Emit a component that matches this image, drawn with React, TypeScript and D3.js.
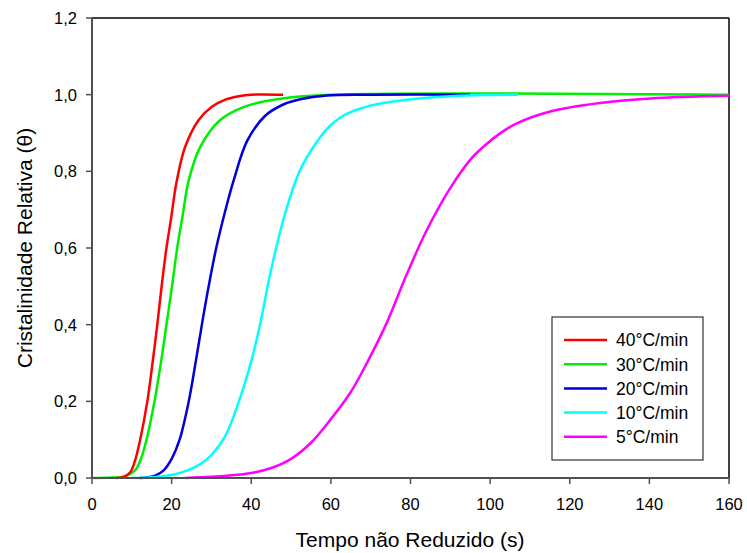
import React from "react";
import * as d3 from "d3";

const xTicks = [0, 20, 40, 60, 80, 100, 120, 140, 160];
const yTicks = [0, 0.2, 0.4, 0.6, 0.8, 1.0, 1.2];

const seriesNames = ["40°C/min", "30°C/min", "20°C/min", "10°C/min", "5°C/min"];
const seriesColors = ["#ff0000", "#00ee00", "#0000dd", "#00ffff", "#ff00ff"];

const t40 = [6, 8, 9.6, 10.8, 12.1, 13.9, 15.2, 16.4, 17.6, 18.7, 19.9, 21.2, 23.4, 26.8, 30.2, 33.5, 36.9, 40, 48];
const v40 = [0, 0.003, 0.015, 0.045, 0.1, 0.2, 0.3, 0.4, 0.51, 0.6, 0.68, 0.77, 0.864, 0.934, 0.969, 0.987, 0.996, 1.0, 1.0];

const t30 = [0.5, 5, 8, 10.8, 12.3, 13.7, 15.7, 17.3, 18.7, 20.1, 21.4, 22.7, 24.3, 27.2, 32.2, 38.4, 47.7, 60, 160];
const v30 = [0, 0.001, 0.004, 0.02, 0.05, 0.1, 0.2, 0.3, 0.4, 0.5, 0.6, 0.68, 0.777, 0.864, 0.934, 0.969, 0.99, 1.0, 1.0];

const t20 = [12, 14, 16, 18, 20, 22, 24.3, 26, 27.6, 29.3, 31.2, 33.3, 35.6, 39, 43.5, 48.2, 52.3, 59, 70, 95];
const v20 = [0, 0.002, 0.007, 0.02, 0.05, 0.1, 0.2, 0.3, 0.4, 0.5, 0.6, 0.69, 0.777, 0.88, 0.945, 0.975, 0.988, 0.998, 1.0, 1.0];

const t10 = [10.5, 15, 20, 24, 27, 30, 33.5, 36.9, 39.4, 42, 44.5, 46.5, 48.5, 52.3, 56.5, 59.5, 63.1, 67.5, 73.2, 85.8, 98, 107];
const v10 = [0, 0.002, 0.008, 0.02, 0.035, 0.06, 0.11, 0.2, 0.282, 0.39, 0.52, 0.61, 0.69, 0.804, 0.877, 0.916, 0.945, 0.964, 0.978, 0.993, 0.999, 1.0];

const t5 = [23.4, 30, 34, 40, 45, 50, 54.8, 59.8, 64.8, 69, 74, 79, 84.1, 89.9, 95, 98.3, 102.5, 106.7, 115.1, 127.6, 140.2, 160];
const v5 = [0, 0.003, 0.006, 0.013, 0.026, 0.05, 0.09, 0.151, 0.221, 0.299, 0.404, 0.53, 0.647, 0.755, 0.83, 0.864, 0.899, 0.925, 0.956, 0.978, 0.99, 0.997];

const seriesT = [t40, t30, t20, t10, t5];
const seriesV = [v40, v30, v20, v10, v5];
const drawOrder = [1, 0, 2, 3, 4];

export default function App() {
  const W = 747, H = 553;
  const left = 92, right = 729, top = 18, bottom = 478;
  const x = d3.scaleLinear().domain([0, 160]).range([left, right]);
  const y = d3.scaleLinear().domain([0, 1.2]).range([bottom, top]);
  const line = d3
    .line<[number, number]>()
    .x((d) => x(d[0]))
    .y((d) => y(d[1]))
    .curve(d3.curveCatmullRom.alpha(0.5));
  const font = "Arial, 'Liberation Sans', sans-serif";
  const fmt = (v: number) => v.toFixed(1).replace(".", ",");
  const axisColor = "#505050";

  const legX = 552, legY = 317, legW = 151, legH = 143;
  const rowY0 = 340, rowDy = 24.2;

  return (
    <svg
      width={W}
      height={H}
      style={{ position: "absolute", left: 0, top: 0, background: "#fff" }}
      fontFamily={font}
    >
      <rect x={0} y={0} width={W} height={H} fill="#fff" />
      <line x1={left} x2={right} y1={top} y2={top} stroke="#000" strokeWidth={1.5} />
      <line x1={right} x2={right} y1={top} y2={bottom} stroke="#000" strokeWidth={1.5} />

      {drawOrder.map((i) => {
        const pts: [number, number][] = seriesT[i].map((t, k) => [t, seriesV[i][k]]);
        return (
          <path
            key={i}
            d={line(pts) || ""}
            fill="none"
            stroke={seriesColors[i]}
            strokeWidth={2.5}
            strokeLinejoin="round"
          />
        );
      })}

      <line x1={left} x2={left} y1={top} y2={bottom + 1} stroke={axisColor} strokeWidth={2} />
      {yTicks.map((v) => (
        <g key={v}>
          <line x1={left - 6} x2={left} y1={y(v)} y2={y(v)} stroke={axisColor} strokeWidth={1.5} />
          <text x={77} y={y(v)} dy="0.36em" textAnchor="end" fontSize={16.5} fill="#000">
            {fmt(v)}
          </text>
        </g>
      ))}

      <line x1={left - 1} x2={right} y1={bottom} y2={bottom} stroke={axisColor} strokeWidth={2} />
      {xTicks.map((v) => (
        <g key={v}>
          <line x1={x(v)} x2={x(v)} y1={bottom} y2={bottom + 6} stroke={axisColor} strokeWidth={1.5} />
          <text x={x(v)} y={510} textAnchor="middle" fontSize={16.5} fill="#000">
            {v}
          </text>
        </g>
      ))}

      <text x={410} y={547} textAnchor="middle" fontSize={21} fill="#000">
        Tempo não Reduzido (s)
      </text>
      <text
        transform={`translate(32, ${(top + bottom) / 2}) rotate(-90)`}
        textAnchor="middle"
        fontSize={21}
        fill="#000"
      >
        Cristalinidade Relativa (θ)
      </text>

      <rect x={legX} y={legY} width={legW} height={legH} fill="#fff" stroke="#333" strokeWidth={1.2} />
      {seriesNames.map((n, i) => (
        <g key={n}>
          <line
            x1={564}
            x2={607}
            y1={rowY0 + i * rowDy}
            y2={rowY0 + i * rowDy}
            stroke={seriesColors[i]}
            strokeWidth={2.5}
          />
          <text x={616} y={rowY0 + i * rowDy} dy="0.36em" fontSize={17.5} fill="#000">
            {n}
          </text>
        </g>
      ))}
    </svg>
  );
}
